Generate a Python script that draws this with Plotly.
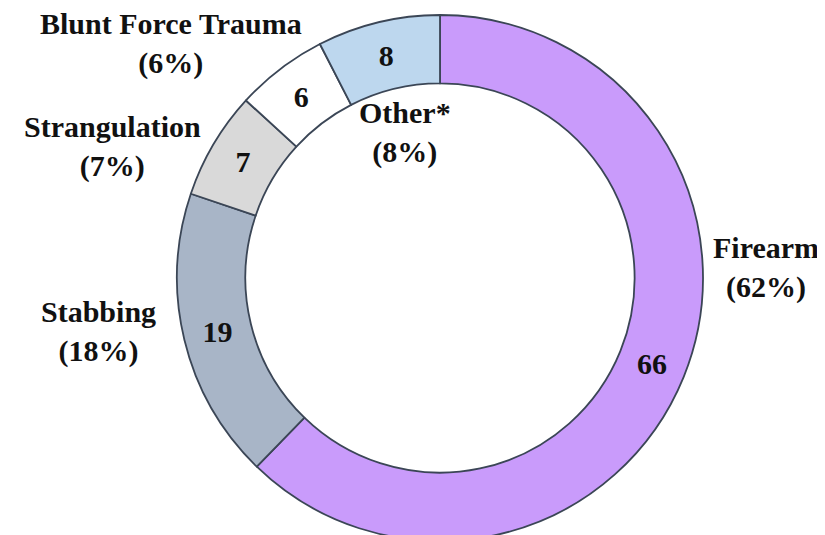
import plotly.graph_objects as go

categories = ["Firearm", "Stabbing", "Strangulation", "Blunt Force Trauma", "Other*"]
counts = [66, 19, 7, 6, 8]
colors = ["#C99BFB", "#A8B5C7", "#D9D9D9", "#FFFFFF", "#BDD7EE"]

# label centres in pixels (x, y from top) for the 825x535 canvas
label_pos = {
    "Firearm": (758, 259),
    "Stabbing": (90, 323),
    "Strangulation": (104, 138),
    "Blunt Force Trauma": (163, 35),
    "Other*": (397, 124),
}

W, H = 825, 535
font = dict(family="Liberation Serif, Times New Roman, serif", size=30, color="#111111", weight="bold")

fig = go.Figure(go.Pie(
    labels=categories, values=counts, sort=False, direction="clockwise", rotation=0,
    hole=0.74, marker=dict(colors=colors, line=dict(color="#3B4656", width=1.8)),
    textinfo="value", textposition="inside", insidetextorientation="horizontal",
    textfont=font, showlegend=False, hoverinfo="label+value+percent",
    domain=dict(x=[(432 - 263) / W, (432 + 263) / W], y=[2 / H, (H - 7) / H]),
))

total = sum(counts)
for name, n in zip(categories, counts):
    px, py = label_pos[name]
    fig.add_annotation(x=px / W, y=1 - py / H, xref="paper", yref="paper",
                       text=f"{name}<br>({round(100 * n / total)}%)", showarrow=False,
                       font=font, align="center", xanchor="center", yanchor="middle")

fig.update_layout(width=W, height=H, margin=dict(l=0, r=0, t=0, b=0),
                  paper_bgcolor="white", plot_bgcolor="white", uniformtext=dict(minsize=30, mode="show"))
fig.write_html("out.html")
